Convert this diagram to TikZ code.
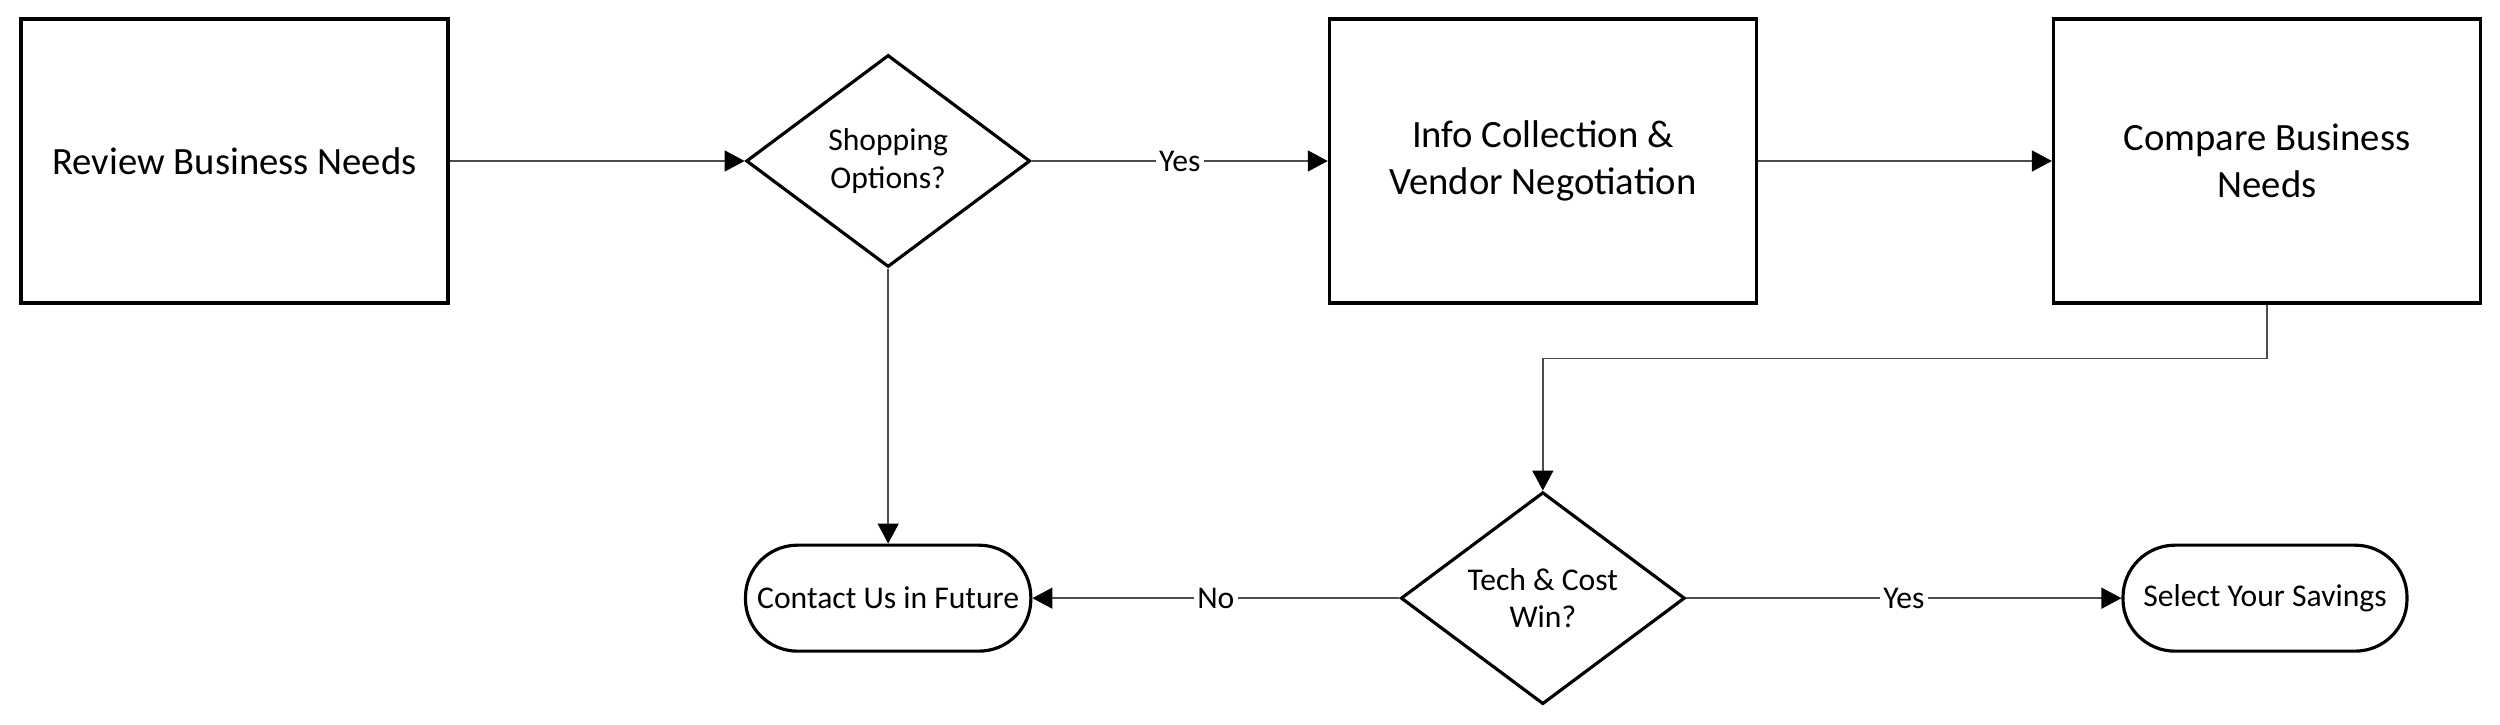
\documentclass[tikz,border=0pt]{standalone}
\usepackage{fontspec}
\setmainfont{Carlito}
\usetikzlibrary{arrows.meta,shapes.geometric}
\usetikzlibrary{positioning}

\tikzset{
  process/.style={rectangle,draw=black,line width=0.9pt,minimum width=4.27cm,minimum height=2.84cm,align=center,font=\fontsize{11}{13.4}\selectfont},
  decision/.style={diamond,draw=black,line width=0.9pt,minimum width=2.84cm,minimum height=2.12cm,inner sep=0pt,align=center,font=\fontsize{9}{10.7}\selectfont},
  terminal/.style={rectangle,rounded corners=0.52cm,draw=black,line width=0.9pt,minimum width=2.84cm,minimum height=1.06cm,align=center,font=\fontsize{9}{10.7}\selectfont},
  flow/.style={draw=black!70,line width=0.4pt,-{Triangle[length=0.2cm,width=0.21cm,color=black]}},
  lbl/.style={fill=white,inner sep=1pt,font=\fontsize{9}{10.7}\selectfont}
}

\begin{document}
\begin{tikzpicture}
\useasboundingbox (0,0) rectangle (25,-7.25);
\node[process](review) at (2.345,-1.61){Review Business Needs};
\node[decision,right =2.95cm of review](shop){Shopping\\Options?};
\node[process,right =2.96cm of shop](info){Info Collection \&\\Vendor Negotiation};
\node[process,right =2.94cm of info](compare){Compare Business\\Needs};
\node[decision,below =1.86cm of info](tech){Tech \& Cost\\Win?};
\node[terminal](contact) at (shop |- tech){Contact Us in Future};
\node[terminal,right =4.35cm of tech](select){Select Your Savings};
\draw[flow] (review) -- (shop);
\draw[flow] (shop) -- node[lbl]{Yes} (info);
\draw[flow] (info) -- (compare);
\draw[flow] (compare.south) -- ++(0,-0.54) -| (tech.north);
\draw[flow] (shop) -- (contact);
\draw[flow] (tech) -- node[lbl]{No} (contact);
\draw[flow] (tech) -- node[lbl]{Yes} (select);
\end{tikzpicture}
\end{document}
